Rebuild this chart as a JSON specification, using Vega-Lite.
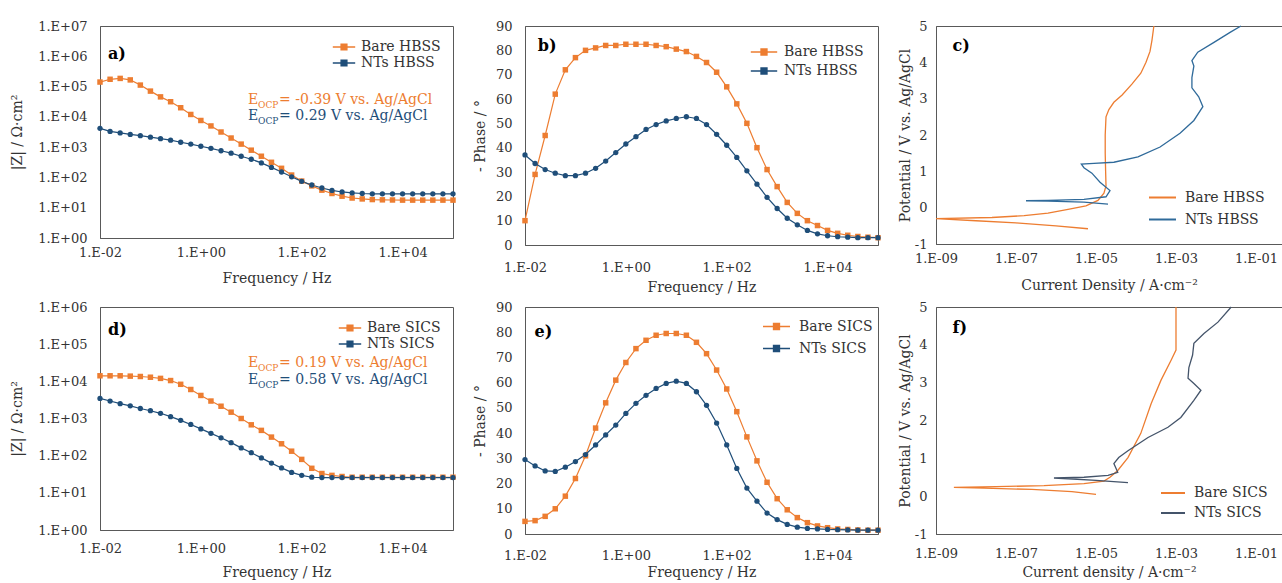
{
  "$schema": "https://vega.github.io/schema/vega-lite/v6.json",
  "padding": {"left": 10, "top": 19, "right": 0, "bottom": 0},
  "background": "white",
  "config": {
    "font": "DejaVu Serif",
    "view": {"stroke": "#595959", "strokeWidth": 1},
    "axis": {"grid": false, "ticks": false, "labelFont": "DejaVu Serif", "labelFontSize": 13, "labelColor": "#333333", "titleFont": "DejaVu Serif", "titleFontSize": 14, "titleFontWeight": "normal", "titleColor": "#333333", "domainColor": "#595959", "labelOverlap": false, "labelFlush": false, "labelBound": false},
    "legend": {"labelFont": "DejaVu Serif", "labelFontSize": 14, "labelColor": "#333333", "title": null, "padding": 0, "rowPadding": 0, "labelOffset": 8},
    "title": {"font": "DejaVu Serif"},
    "text": {"font": "DejaVu Serif"}
  },
  "datasets": {
    "zH": [
      {"f": 0.01, "Bare HBSS": 141000, "NTs HBSS": 4170},
      {"f": 0.01585, "Bare HBSS": 174000, "NTs HBSS": 3310},
      {"f": 0.02512, "Bare HBSS": 186000, "NTs HBSS": 2950},
      {"f": 0.03981, "Bare HBSS": 166000, "NTs HBSS": 2630},
      {"f": 0.0631, "Bare HBSS": 112000, "NTs HBSS": 2400},
      {"f": 0.1, "Bare HBSS": 70800, "NTs HBSS": 2140},
      {"f": 0.1585, "Bare HBSS": 45700, "NTs HBSS": 1910},
      {"f": 0.2512, "Bare HBSS": 31600, "NTs HBSS": 1700},
      {"f": 0.3981, "Bare HBSS": 20000, "NTs HBSS": 1450},
      {"f": 0.631, "Bare HBSS": 12000, "NTs HBSS": 1260},
      {"f": 1, "Bare HBSS": 7590, "NTs HBSS": 1070},
      {"f": 1.585, "Bare HBSS": 5010, "NTs HBSS": 912},
      {"f": 2.512, "Bare HBSS": 3160, "NTs HBSS": 759},
      {"f": 3.981, "Bare HBSS": 2000, "NTs HBSS": 631},
      {"f": 6.31, "Bare HBSS": 1260, "NTs HBSS": 501},
      {"f": 10, "Bare HBSS": 794, "NTs HBSS": 398},
      {"f": 15.85, "Bare HBSS": 501, "NTs HBSS": 302},
      {"f": 25.12, "Bare HBSS": 316, "NTs HBSS": 214},
      {"f": 39.81, "Bare HBSS": 200, "NTs HBSS": 151},
      {"f": 63.1, "Bare HBSS": 120, "NTs HBSS": 105},
      {"f": 100, "Bare HBSS": 75.9, "NTs HBSS": 74.1},
      {"f": 158.5, "Bare HBSS": 52.5, "NTs HBSS": 56.2},
      {"f": 251.2, "Bare HBSS": 38.0, "NTs HBSS": 44.7},
      {"f": 398.1, "Bare HBSS": 29.5, "NTs HBSS": 37.2},
      {"f": 631, "Bare HBSS": 24.0, "NTs HBSS": 33.1},
      {"f": 1000, "Bare HBSS": 20.9, "NTs HBSS": 30.9},
      {"f": 1585, "Bare HBSS": 19.5, "NTs HBSS": 29.5},
      {"f": 2512, "Bare HBSS": 18.6, "NTs HBSS": 28.8},
      {"f": 3981, "Bare HBSS": 18.2, "NTs HBSS": 28.8},
      {"f": 6310, "Bare HBSS": 18.0, "NTs HBSS": 28.8},
      {"f": 10000, "Bare HBSS": 17.8, "NTs HBSS": 28.8},
      {"f": 15850, "Bare HBSS": 17.8, "NTs HBSS": 28.8},
      {"f": 25120, "Bare HBSS": 17.8, "NTs HBSS": 28.8},
      {"f": 39810, "Bare HBSS": 17.8, "NTs HBSS": 28.8},
      {"f": 63100, "Bare HBSS": 17.8, "NTs HBSS": 28.8},
      {"f": 100000, "Bare HBSS": 17.8, "NTs HBSS": 28.8}
    ],
    "pH": [
      {"f": 0.01, "Bare HBSS": 10, "NTs HBSS": 37},
      {"f": 0.01585, "Bare HBSS": 29, "NTs HBSS": 33.5},
      {"f": 0.02512, "Bare HBSS": 45, "NTs HBSS": 31},
      {"f": 0.03981, "Bare HBSS": 62, "NTs HBSS": 29.5},
      {"f": 0.0631, "Bare HBSS": 72, "NTs HBSS": 28.5},
      {"f": 0.1, "Bare HBSS": 77, "NTs HBSS": 28.5},
      {"f": 0.1585, "Bare HBSS": 80, "NTs HBSS": 29.5},
      {"f": 0.2512, "Bare HBSS": 81, "NTs HBSS": 31.5},
      {"f": 0.3981, "Bare HBSS": 82, "NTs HBSS": 34.5},
      {"f": 0.631, "Bare HBSS": 82, "NTs HBSS": 38},
      {"f": 1, "Bare HBSS": 82.5, "NTs HBSS": 41.5},
      {"f": 1.585, "Bare HBSS": 82.5, "NTs HBSS": 44.5},
      {"f": 2.512, "Bare HBSS": 82.5, "NTs HBSS": 47.5},
      {"f": 3.981, "Bare HBSS": 82, "NTs HBSS": 49.5},
      {"f": 6.31, "Bare HBSS": 81.5, "NTs HBSS": 51},
      {"f": 10, "Bare HBSS": 80.5, "NTs HBSS": 52},
      {"f": 15.85, "Bare HBSS": 79.5, "NTs HBSS": 52.7},
      {"f": 25.12, "Bare HBSS": 77.5, "NTs HBSS": 52},
      {"f": 39.81, "Bare HBSS": 75, "NTs HBSS": 49.5},
      {"f": 63.1, "Bare HBSS": 71, "NTs HBSS": 45.5},
      {"f": 100, "Bare HBSS": 65, "NTs HBSS": 41},
      {"f": 158.5, "Bare HBSS": 58, "NTs HBSS": 36},
      {"f": 251.2, "Bare HBSS": 50, "NTs HBSS": 30.5},
      {"f": 398.1, "Bare HBSS": 40, "NTs HBSS": 25},
      {"f": 631, "Bare HBSS": 31, "NTs HBSS": 19.6},
      {"f": 1000, "Bare HBSS": 24, "NTs HBSS": 15},
      {"f": 1585, "Bare HBSS": 17.5, "NTs HBSS": 11},
      {"f": 2512, "Bare HBSS": 13, "NTs HBSS": 8.3},
      {"f": 3981, "Bare HBSS": 10, "NTs HBSS": 6},
      {"f": 6310, "Bare HBSS": 8, "NTs HBSS": 4.6},
      {"f": 10000, "Bare HBSS": 6, "NTs HBSS": 3.8},
      {"f": 15850, "Bare HBSS": 4.8, "NTs HBSS": 3.4},
      {"f": 25120, "Bare HBSS": 4, "NTs HBSS": 3.2},
      {"f": 39810, "Bare HBSS": 3.5, "NTs HBSS": 3},
      {"f": 63100, "Bare HBSS": 3.2, "NTs HBSS": 3},
      {"f": 100000, "Bare HBSS": 3, "NTs HBSS": 3}
    ],
    "zS": [
      {"f": 0.01, "Bare SICS": 14100, "NTs SICS": 3470},
      {"f": 0.01585, "Bare SICS": 14100, "NTs SICS": 2950},
      {"f": 0.02512, "Bare SICS": 14100, "NTs SICS": 2510},
      {"f": 0.03981, "Bare SICS": 13800, "NTs SICS": 2190},
      {"f": 0.0631, "Bare SICS": 13500, "NTs SICS": 1860},
      {"f": 0.1, "Bare SICS": 12900, "NTs SICS": 1620},
      {"f": 0.1585, "Bare SICS": 12000, "NTs SICS": 1380},
      {"f": 0.2512, "Bare SICS": 10500, "NTs SICS": 1120},
      {"f": 0.3981, "Bare SICS": 8320, "NTs SICS": 891},
      {"f": 0.631, "Bare SICS": 6030, "NTs SICS": 692},
      {"f": 1, "Bare SICS": 4170, "NTs SICS": 525},
      {"f": 1.585, "Bare SICS": 2950, "NTs SICS": 398},
      {"f": 2.512, "Bare SICS": 2140, "NTs SICS": 302},
      {"f": 3.981, "Bare SICS": 1480, "NTs SICS": 224},
      {"f": 6.31, "Bare SICS": 1000, "NTs SICS": 162},
      {"f": 10, "Bare SICS": 676, "NTs SICS": 120},
      {"f": 15.85, "Bare SICS": 479, "NTs SICS": 87.1},
      {"f": 25.12, "Bare SICS": 316, "NTs SICS": 63.1},
      {"f": 39.81, "Bare SICS": 209, "NTs SICS": 46.8},
      {"f": 63.1, "Bare SICS": 132, "NTs SICS": 35.5},
      {"f": 100, "Bare SICS": 79.4, "NTs SICS": 29.5},
      {"f": 158.5, "Bare SICS": 45.7, "NTs SICS": 26.3},
      {"f": 251.2, "Bare SICS": 33.1, "NTs SICS": 25.7},
      {"f": 398.1, "Bare SICS": 29.5, "NTs SICS": 25.7},
      {"f": 631, "Bare SICS": 27.5, "NTs SICS": 25.7},
      {"f": 1000, "Bare SICS": 26.3, "NTs SICS": 25.7},
      {"f": 1585, "Bare SICS": 26.3, "NTs SICS": 25.7},
      {"f": 2512, "Bare SICS": 26.3, "NTs SICS": 25.7},
      {"f": 3981, "Bare SICS": 26.3, "NTs SICS": 25.7},
      {"f": 6310, "Bare SICS": 26.3, "NTs SICS": 25.7},
      {"f": 10000, "Bare SICS": 26.3, "NTs SICS": 25.7},
      {"f": 15850, "Bare SICS": 26.3, "NTs SICS": 25.7},
      {"f": 25120, "Bare SICS": 26.3, "NTs SICS": 25.7},
      {"f": 39810, "Bare SICS": 26.3, "NTs SICS": 25.7},
      {"f": 63100, "Bare SICS": 26.3, "NTs SICS": 25.7},
      {"f": 100000, "Bare SICS": 26.3, "NTs SICS": 25.7}
    ],
    "pS": [
      {"f": 0.01, "Bare SICS": 5, "NTs SICS": 29.5},
      {"f": 0.01585, "Bare SICS": 5.3, "NTs SICS": 27},
      {"f": 0.02512, "Bare SICS": 7, "NTs SICS": 25},
      {"f": 0.03981, "Bare SICS": 10, "NTs SICS": 24.8},
      {"f": 0.0631, "Bare SICS": 15, "NTs SICS": 26.5},
      {"f": 0.1, "Bare SICS": 22, "NTs SICS": 28.7},
      {"f": 0.1585, "Bare SICS": 31, "NTs SICS": 31.5},
      {"f": 0.2512, "Bare SICS": 42, "NTs SICS": 35.3},
      {"f": 0.3981, "Bare SICS": 52, "NTs SICS": 39.3},
      {"f": 0.631, "Bare SICS": 61, "NTs SICS": 43.2},
      {"f": 1, "Bare SICS": 68, "NTs SICS": 47.8},
      {"f": 1.585, "Bare SICS": 73.5, "NTs SICS": 51.8},
      {"f": 2.512, "Bare SICS": 76.8, "NTs SICS": 55},
      {"f": 3.981, "Bare SICS": 78.8, "NTs SICS": 57.7},
      {"f": 6.31, "Bare SICS": 79.5, "NTs SICS": 59.7},
      {"f": 10, "Bare SICS": 79.5, "NTs SICS": 60.6},
      {"f": 15.85, "Bare SICS": 78.8, "NTs SICS": 59.7},
      {"f": 25.12, "Bare SICS": 76, "NTs SICS": 56.4},
      {"f": 39.81, "Bare SICS": 71.5, "NTs SICS": 51},
      {"f": 63.1, "Bare SICS": 65, "NTs SICS": 44},
      {"f": 100, "Bare SICS": 57.5, "NTs SICS": 35.3},
      {"f": 158.5, "Bare SICS": 48.5, "NTs SICS": 26},
      {"f": 251.2, "Bare SICS": 38.5, "NTs SICS": 18.2},
      {"f": 398.1, "Bare SICS": 29, "NTs SICS": 13},
      {"f": 631, "Bare SICS": 20.5, "NTs SICS": 8.3},
      {"f": 1000, "Bare SICS": 14, "NTs SICS": 5.7},
      {"f": 1585, "Bare SICS": 9.6, "NTs SICS": 3.8},
      {"f": 2512, "Bare SICS": 6.5, "NTs SICS": 2.7},
      {"f": 3981, "Bare SICS": 4.5, "NTs SICS": 2.2},
      {"f": 6310, "Bare SICS": 3.2, "NTs SICS": 2},
      {"f": 10000, "Bare SICS": 2.5, "NTs SICS": 1.8},
      {"f": 15850, "Bare SICS": 2, "NTs SICS": 1.7},
      {"f": 25120, "Bare SICS": 1.8, "NTs SICS": 1.6},
      {"f": 39810, "Bare SICS": 1.6, "NTs SICS": 1.5},
      {"f": 63100, "Bare SICS": 1.5, "NTs SICS": 1.5},
      {"f": 100000, "Bare SICS": 1.5, "NTs SICS": 1.5}
    ],
    "cH": [
      {"s": "Bare HBSS", "o": 1, "i": 6.3e-6, "v": -0.58},
      {"s": "Bare HBSS", "o": 2, "i": 1.0e-6, "v": -0.5},
      {"s": "Bare HBSS", "o": 3, "i": 1.0e-7, "v": -0.42},
      {"s": "Bare HBSS", "o": 4, "i": 1.0e-8, "v": -0.36},
      {"s": "Bare HBSS", "o": 5, "i": 1.3e-9, "v": -0.31},
      {"s": "Bare HBSS", "o": 6, "i": 1.0e-9, "v": -0.3},
      {"s": "Bare HBSS", "o": 7, "i": 2.5e-8, "v": -0.27},
      {"s": "Bare HBSS", "o": 8, "i": 1.6e-7, "v": -0.22},
      {"s": "Bare HBSS", "o": 9, "i": 6.3e-7, "v": -0.15},
      {"s": "Bare HBSS", "o": 10, "i": 2.0e-6, "v": -0.05},
      {"s": "Bare HBSS", "o": 11, "i": 5.6e-6, "v": 0.05},
      {"s": "Bare HBSS", "o": 12, "i": 1.12e-5, "v": 0.2},
      {"s": "Bare HBSS", "o": 13, "i": 1.58e-5, "v": 0.4},
      {"s": "Bare HBSS", "o": 14, "i": 1.78e-5, "v": 0.6},
      {"s": "Bare HBSS", "o": 15, "i": 1.74e-5, "v": 1.0},
      {"s": "Bare HBSS", "o": 16, "i": 1.7e-5, "v": 1.5},
      {"s": "Bare HBSS", "o": 17, "i": 1.7e-5, "v": 2.0},
      {"s": "Bare HBSS", "o": 18, "i": 1.78e-5, "v": 2.5},
      {"s": "Bare HBSS", "o": 19, "i": 2.1e-5, "v": 2.7},
      {"s": "Bare HBSS", "o": 20, "i": 2.8e-5, "v": 2.9},
      {"s": "Bare HBSS", "o": 21, "i": 4.5e-5, "v": 3.1},
      {"s": "Bare HBSS", "o": 22, "i": 7.9e-5, "v": 3.4},
      {"s": "Bare HBSS", "o": 23, "i": 1.32e-4, "v": 3.7},
      {"s": "Bare HBSS", "o": 24, "i": 1.78e-4, "v": 4.0},
      {"s": "Bare HBSS", "o": 25, "i": 2.24e-4, "v": 4.3},
      {"s": "Bare HBSS", "o": 26, "i": 2.5e-4, "v": 4.6},
      {"s": "Bare HBSS", "o": 27, "i": 2.8e-4, "v": 5.0},
      {"s": "NTs HBSS", "o": 1, "i": 2.0e-5, "v": 0.1},
      {"s": "NTs HBSS", "o": 2, "i": 5.0e-6, "v": 0.15},
      {"s": "NTs HBSS", "o": 3, "i": 6.3e-7, "v": 0.18},
      {"s": "NTs HBSS", "o": 4, "i": 1.78e-7, "v": 0.19},
      {"s": "NTs HBSS", "o": 5, "i": 6.3e-7, "v": 0.2},
      {"s": "NTs HBSS", "o": 6, "i": 5.0e-6, "v": 0.23},
      {"s": "NTs HBSS", "o": 7, "i": 1.78e-5, "v": 0.3},
      {"s": "NTs HBSS", "o": 8, "i": 2.24e-5, "v": 0.47},
      {"s": "NTs HBSS", "o": 9, "i": 1.26e-5, "v": 0.7},
      {"s": "NTs HBSS", "o": 10, "i": 7.9e-6, "v": 0.95},
      {"s": "NTs HBSS", "o": 11, "i": 5.0e-6, "v": 1.1},
      {"s": "NTs HBSS", "o": 12, "i": 4.3e-6, "v": 1.2},
      {"s": "NTs HBSS", "o": 13, "i": 8.9e-6, "v": 1.22},
      {"s": "NTs HBSS", "o": 14, "i": 2.8e-5, "v": 1.25},
      {"s": "NTs HBSS", "o": 15, "i": 1.12e-4, "v": 1.4},
      {"s": "NTs HBSS", "o": 16, "i": 4.0e-4, "v": 1.67},
      {"s": "NTs HBSS", "o": 17, "i": 1.26e-3, "v": 2.05},
      {"s": "NTs HBSS", "o": 18, "i": 2.8e-3, "v": 2.4},
      {"s": "NTs HBSS", "o": 19, "i": 4.7e-3, "v": 2.78},
      {"s": "NTs HBSS", "o": 20, "i": 3.7e-3, "v": 3.05},
      {"s": "NTs HBSS", "o": 21, "i": 2.5e-3, "v": 3.3},
      {"s": "NTs HBSS", "o": 22, "i": 2.5e-3, "v": 3.58},
      {"s": "NTs HBSS", "o": 23, "i": 2.8e-3, "v": 3.9},
      {"s": "NTs HBSS", "o": 24, "i": 2.5e-3, "v": 4.05},
      {"s": "NTs HBSS", "o": 25, "i": 3.5e-3, "v": 4.28},
      {"s": "NTs HBSS", "o": 26, "i": 8.9e-3, "v": 4.55},
      {"s": "NTs HBSS", "o": 27, "i": 2.3e-2, "v": 4.83},
      {"s": "NTs HBSS", "o": 28, "i": 4.2e-2, "v": 5.0}
    ],
    "cS": [
      {"s": "Bare SICS", "o": 1, "i": 1.0e-5, "v": 0.05},
      {"s": "Bare SICS", "o": 2, "i": 2.5e-6, "v": 0.12},
      {"s": "Bare SICS", "o": 3, "i": 2.5e-7, "v": 0.18},
      {"s": "Bare SICS", "o": 4, "i": 1.6e-8, "v": 0.21},
      {"s": "Bare SICS", "o": 5, "i": 2.8e-9, "v": 0.23},
      {"s": "Bare SICS", "o": 6, "i": 3.2e-8, "v": 0.25},
      {"s": "Bare SICS", "o": 7, "i": 5.0e-7, "v": 0.28},
      {"s": "Bare SICS", "o": 8, "i": 5.0e-6, "v": 0.33},
      {"s": "Bare SICS", "o": 9, "i": 1.58e-5, "v": 0.4},
      {"s": "Bare SICS", "o": 10, "i": 2.24e-5, "v": 0.5},
      {"s": "Bare SICS", "o": 11, "i": 3.5e-5, "v": 0.68},
      {"s": "Bare SICS", "o": 12, "i": 6.3e-5, "v": 1.02},
      {"s": "Bare SICS", "o": 13, "i": 1.32e-4, "v": 1.66},
      {"s": "Bare SICS", "o": 14, "i": 2.4e-4, "v": 2.45},
      {"s": "Bare SICS", "o": 15, "i": 4.2e-4, "v": 3.06},
      {"s": "Bare SICS", "o": 16, "i": 7.6e-4, "v": 3.6},
      {"s": "Bare SICS", "o": 17, "i": 1.0e-3, "v": 3.86},
      {"s": "Bare SICS", "o": 18, "i": 1.0e-3, "v": 5.0},
      {"s": "NTs SICS", "o": 1, "i": 6.3e-5, "v": 0.36},
      {"s": "NTs SICS", "o": 2, "i": 1.0e-5, "v": 0.42},
      {"s": "NTs SICS", "o": 3, "i": 2.0e-6, "v": 0.46},
      {"s": "NTs SICS", "o": 4, "i": 8.9e-7, "v": 0.48},
      {"s": "NTs SICS", "o": 5, "i": 5.0e-6, "v": 0.5},
      {"s": "NTs SICS", "o": 6, "i": 2.0e-5, "v": 0.55},
      {"s": "NTs SICS", "o": 7, "i": 3.5e-5, "v": 0.63},
      {"s": "NTs SICS", "o": 8, "i": 2.8e-5, "v": 0.86},
      {"s": "NTs SICS", "o": 9, "i": 3.7e-5, "v": 1.02},
      {"s": "NTs SICS", "o": 10, "i": 6.3e-5, "v": 1.2},
      {"s": "NTs SICS", "o": 11, "i": 2.0e-4, "v": 1.55},
      {"s": "NTs SICS", "o": 12, "i": 6.3e-4, "v": 1.82},
      {"s": "NTs SICS", "o": 13, "i": 1.32e-3, "v": 2.08},
      {"s": "NTs SICS", "o": 14, "i": 2.8e-3, "v": 2.53},
      {"s": "NTs SICS", "o": 15, "i": 4.2e-3, "v": 2.8},
      {"s": "NTs SICS", "o": 16, "i": 2.8e-3, "v": 2.98},
      {"s": "NTs SICS", "o": 17, "i": 2.0e-3, "v": 3.12},
      {"s": "NTs SICS", "o": 18, "i": 2.1e-3, "v": 3.4},
      {"s": "NTs SICS", "o": 19, "i": 2.6e-3, "v": 3.73},
      {"s": "NTs SICS", "o": 20, "i": 2.8e-3, "v": 4.04},
      {"s": "NTs SICS", "o": 21, "i": 5.0e-3, "v": 4.3},
      {"s": "NTs SICS", "o": 22, "i": 1.12e-2, "v": 4.6},
      {"s": "NTs SICS", "o": 23, "i": 2.4e-2, "v": 5.0}
    ]
  },
  "resolve": {"scale": {"color": "independent", "x": "independent", "y": "independent"}},
  "spacing": 5,
  "vconcat": [
    {
      "spacing": 15,
      "resolve": {"scale": {"color": "independent", "x": "independent", "y": "independent"}},
      "hconcat": [
        {
          "width": 353, "height": 212,
          "layer": [
            {
              "data": {"name": "zH"},
              "transform": [{"fold": ["Bare HBSS", "NTs HBSS"], "as": ["series", "val"]}],
              "encoding": {
                "x": {"field": "f", "type": "quantitative", "scale": {"type": "log", "domain": [0.01, 100000], "nice": false}, "axis": {"values": [0.01, 1, 100, 10000], "tickCount": 20, "title": "Frequency / Hz", "labelPadding": 8, "titlePadding": 12, "labelOverlap": false, "labelExpr": "'1.E' + (log(datum.value)/LN10 < -0.5 ? '-' : '+') + (abs(round(log(datum.value)/LN10)) < 10 ? '0' : '') + abs(round(log(datum.value)/LN10))"}},
                "y": {"field": "val", "type": "quantitative", "scale": {"type": "log", "domain": [1, 10000000], "nice": false}, "axis": {"values": [1, 10, 100, 1000, 10000, 100000, 1000000, 10000000], "tickCount": 20, "title": "|Z| / Ω·cm²", "labelPadding": 13, "titlePadding": 13, "labelOverlap": false, "labelExpr": "'1.E' + (log(datum.value)/LN10 < -0.5 ? '-' : '+') + (abs(round(log(datum.value)/LN10)) < 10 ? '0' : '') + abs(round(log(datum.value)/LN10))"}},
                "color": {"field": "series", "type": "nominal", "scale": {"domain": ["Bare HBSS", "NTs HBSS"], "range": ["#ED7D31", "#1F4E79"]}, "legend": {"orient": "top-right", "offset": 12, "symbolSize": 256, "symbolType": "M-1.4,0H1.4M-0.36,-0.36H0.36V0.36H-0.36Z", "symbolStrokeWidth": 1.4}}
              },
              "layer": [
                {"mark": {"type": "line", "strokeWidth": 1.2}},
                {"transform": [{"filter": "datum.series === 'Bare HBSS'"}], "mark": {"type": "point", "shape": "square", "filled": true, "size": 30, "opacity": 1}},
                {"transform": [{"filter": "datum.series === 'NTs HBSS'"}], "mark": {"type": "point", "shape": "circle", "filled": true, "size": 28, "opacity": 1}}
              ]
            },
            {"data": {"values": [{}]}, "mark": {"type": "text", "fontSize": 16, "fontWeight": "bold", "align": "left", "baseline": "middle", "color": "#000000"}, "encoding": {"x": {"datum": 0.0144}, "y": {"datum": 1150000}, "text": {"value": "a)"}}},
            {"data": {"values": [{}]}, "mark": {"type": "text", "fontSize": 14, "align": "left", "baseline": "middle", "color": "#ED7D31"}, "encoding": {"x": {"datum": 8.65}, "y": {"datum": 36000}, "text": {"value": "E"}}},
            {"data": {"values": [{}]}, "mark": {"type": "text", "fontSize": 9, "align": "left", "baseline": "middle", "dx": 10, "dy": 5, "color": "#ED7D31"}, "encoding": {"x": {"datum": 8.65}, "y": {"datum": 36000}, "text": {"value": "OCP"}}},
            {"data": {"values": [{}]}, "mark": {"type": "text", "fontSize": 14, "align": "left", "baseline": "middle", "dx": 31, "color": "#ED7D31"}, "encoding": {"x": {"datum": 8.65}, "y": {"datum": 36000}, "text": {"value": "= -0.39 V vs. Ag/AgCl"}}},
            {"data": {"values": [{}]}, "mark": {"type": "text", "fontSize": 14, "align": "left", "baseline": "middle", "color": "#1F4E79"}, "encoding": {"x": {"datum": 8.65}, "y": {"datum": 11000}, "text": {"value": "E"}}},
            {"data": {"values": [{}]}, "mark": {"type": "text", "fontSize": 9, "align": "left", "baseline": "middle", "dx": 10, "dy": 5, "color": "#1F4E79"}, "encoding": {"x": {"datum": 8.65}, "y": {"datum": 11000}, "text": {"value": "OCP"}}},
            {"data": {"values": [{}]}, "mark": {"type": "text", "fontSize": 14, "align": "left", "baseline": "middle", "dx": 31, "color": "#1F4E79"}, "encoding": {"x": {"datum": 8.65}, "y": {"datum": 11000}, "text": {"value": "= 0.29 V vs. Ag/AgCl"}}}
          ]
        },
        {
          "width": 353, "height": 219,
          "layer": [
            {
              "data": {"name": "pH"},
              "transform": [{"fold": ["Bare HBSS", "NTs HBSS"], "as": ["series", "val"]}],
              "encoding": {
                "x": {"field": "f", "type": "quantitative", "scale": {"type": "log", "domain": [0.01, 100000], "nice": false}, "axis": {"values": [0.01, 1, 100, 10000], "tickCount": 20, "title": "Frequency / Hz", "labelPadding": 16, "titlePadding": 6, "labelOverlap": false, "labelExpr": "'1.E' + (log(datum.value)/LN10 < -0.5 ? '-' : '+') + (abs(round(log(datum.value)/LN10)) < 10 ? '0' : '') + abs(round(log(datum.value)/LN10))"}},
                "y": {"field": "val", "type": "quantitative", "scale": {"domain": [0, 90], "nice": false}, "axis": {"values": [0, 10, 20, 30, 40, 50, 60, 70, 80, 90], "tickCount": 20, "title": "- Phase / °", "labelPadding": 13, "titlePadding": 8, "labelOverlap": false}},
                "color": {"field": "series", "type": "nominal", "scale": {"domain": ["Bare HBSS", "NTs HBSS"], "range": ["#ED7D31", "#1F4E79"]}, "legend": {"orient": "top-right", "offset": 14, "symbolSize": 484, "symbolType": "M-1.2,0H1.2M-0.27,-0.27H0.27V0.27H-0.27Z", "symbolStrokeWidth": 1.4}}
              },
              "layer": [
                {"mark": {"type": "line", "strokeWidth": 1.2}},
                {"transform": [{"filter": "datum.series === 'Bare HBSS'"}], "mark": {"type": "point", "shape": "square", "filled": true, "size": 30, "opacity": 1}},
                {"transform": [{"filter": "datum.series === 'NTs HBSS'"}], "mark": {"type": "point", "shape": "circle", "filled": true, "size": 28, "opacity": 1}}
              ]
            },
            {"data": {"values": [{}]}, "mark": {"type": "text", "fontSize": 16, "fontWeight": "bold", "align": "left", "baseline": "middle", "color": "#000000"}, "encoding": {"x": {"datum": 0.018}, "y": {"datum": 81.7}, "text": {"value": "b)"}}}
          ]
        },
        {
          "width": 346, "height": 218,
          "layer": [
            {
              "data": {"name": "cH"},
              "mark": {"type": "line", "strokeWidth": 1.3},
              "encoding": {
                "x": {"field": "i", "type": "quantitative", "scale": {"type": "log", "domain": [1e-9, 0.447], "nice": false}, "axis": {"values": [1e-9, 1e-7, 1e-5, 1e-3, 1e-1], "tickCount": 20, "title": "Current Density / A·cm⁻²", "labelPadding": 8, "titlePadding": 13, "labelOverlap": false, "labelExpr": "'1.E' + (log(datum.value)/LN10 < -0.5 ? '-' : '+') + (abs(round(log(datum.value)/LN10)) < 10 ? '0' : '') + abs(round(log(datum.value)/LN10))"}},
                "y": {"field": "v", "type": "quantitative", "scale": {"domain": [-1, 5], "nice": false}, "axis": {"values": [-1, 0, 1, 2, 3, 4, 5], "tickCount": 20, "title": "Potential / V vs. Ag/AgCl", "labelPadding": 9, "titlePadding": 2, "labelOverlap": false, "labelExpr": "datum.value < 0 ? '-' + abs(datum.value) : '' + datum.value"}},
                "order": {"field": "o", "type": "quantitative"},
                "color": {"field": "s", "type": "nominal", "scale": {"domain": ["Bare HBSS", "NTs HBSS"], "range": ["#ED7D31", "#2F6A9A"]}, "legend": {"orient": "bottom-right", "offset": 17, "symbolType": "stroke", "symbolSize": 729, "symbolStrokeWidth": 2}}
              }
            },
            {"data": {"values": [{}]}, "mark": {"type": "text", "fontSize": 16, "fontWeight": "bold", "align": "left", "baseline": "middle", "color": "#000000"}, "encoding": {"x": {"datum": 2.6e-9}, "y": {"datum": 4.44}, "text": {"value": "c)"}}}
          ]
        }
      ]
    },
    {
      "spacing": 15,
      "resolve": {"scale": {"color": "independent", "x": "independent", "y": "independent"}},
      "hconcat": [
        {
          "width": 353, "height": 223,
          "layer": [
            {
              "data": {"name": "zS"},
              "transform": [{"fold": ["Bare SICS", "NTs SICS"], "as": ["series", "val"]}],
              "encoding": {
                "x": {"field": "f", "type": "quantitative", "scale": {"type": "log", "domain": [0.01, 100000], "nice": false}, "axis": {"values": [0.01, 1, 100, 10000], "tickCount": 20, "title": "Frequency / Hz", "labelPadding": 12, "titlePadding": 10, "labelOverlap": false, "labelExpr": "'1.E' + (log(datum.value)/LN10 < -0.5 ? '-' : '+') + (abs(round(log(datum.value)/LN10)) < 10 ? '0' : '') + abs(round(log(datum.value)/LN10))"}},
                "y": {"field": "val", "type": "quantitative", "scale": {"type": "log", "domain": [1, 1000000], "nice": false}, "axis": {"values": [1, 10, 100, 1000, 10000, 100000, 1000000], "tickCount": 20, "title": "|Z| / Ω·cm²", "labelPadding": 13, "titlePadding": 13, "labelOverlap": false, "labelExpr": "'1.E' + (log(datum.value)/LN10 < -0.5 ? '-' : '+') + (abs(round(log(datum.value)/LN10)) < 10 ? '0' : '') + abs(round(log(datum.value)/LN10))"}},
                "color": {"field": "series", "type": "nominal", "scale": {"domain": ["Bare SICS", "NTs SICS"], "range": ["#ED7D31", "#1F4E79"]}, "legend": {"orient": "top-right", "offset": 12, "symbolSize": 256, "symbolType": "M-1.4,0H1.4M-0.36,-0.36H0.36V0.36H-0.36Z", "symbolStrokeWidth": 1.4}}
              },
              "layer": [
                {"mark": {"type": "line", "strokeWidth": 1.2}},
                {"transform": [{"filter": "datum.series === 'Bare SICS'"}], "mark": {"type": "point", "shape": "square", "filled": true, "size": 30, "opacity": 1}},
                {"transform": [{"filter": "datum.series === 'NTs SICS'"}], "mark": {"type": "point", "shape": "circle", "filled": true, "size": 28, "opacity": 1}}
              ]
            },
            {"data": {"values": [{}]}, "mark": {"type": "text", "fontSize": 16, "fontWeight": "bold", "align": "left", "baseline": "middle", "color": "#000000"}, "encoding": {"x": {"datum": 0.0144}, "y": {"datum": 240000}, "text": {"value": "d)"}}},
            {"data": {"values": [{}]}, "mark": {"type": "text", "fontSize": 14, "align": "left", "baseline": "middle", "color": "#ED7D31"}, "encoding": {"x": {"datum": 8.65}, "y": {"datum": 31000}, "text": {"value": "E"}}},
            {"data": {"values": [{}]}, "mark": {"type": "text", "fontSize": 9, "align": "left", "baseline": "middle", "dx": 10, "dy": 5, "color": "#ED7D31"}, "encoding": {"x": {"datum": 8.65}, "y": {"datum": 31000}, "text": {"value": "OCP"}}},
            {"data": {"values": [{}]}, "mark": {"type": "text", "fontSize": 14, "align": "left", "baseline": "middle", "dx": 31, "color": "#ED7D31"}, "encoding": {"x": {"datum": 8.65}, "y": {"datum": 31000}, "text": {"value": "= 0.19 V vs. Ag/AgCl"}}},
            {"data": {"values": [{}]}, "mark": {"type": "text", "fontSize": 14, "align": "left", "baseline": "middle", "color": "#1F4E79"}, "encoding": {"x": {"datum": 8.65}, "y": {"datum": 11000}, "text": {"value": "E"}}},
            {"data": {"values": [{}]}, "mark": {"type": "text", "fontSize": 9, "align": "left", "baseline": "middle", "dx": 10, "dy": 5, "color": "#1F4E79"}, "encoding": {"x": {"datum": 8.65}, "y": {"datum": 11000}, "text": {"value": "OCP"}}},
            {"data": {"values": [{}]}, "mark": {"type": "text", "fontSize": 14, "align": "left", "baseline": "middle", "dx": 31, "color": "#1F4E79"}, "encoding": {"x": {"datum": 8.65}, "y": {"datum": 11000}, "text": {"value": "= 0.58 V vs. Ag/AgCl"}}}
          ]
        },
        {
          "width": 353, "height": 227,
          "layer": [
            {
              "data": {"name": "pS"},
              "transform": [{"fold": ["Bare SICS", "NTs SICS"], "as": ["series", "val"]}],
              "encoding": {
                "x": {"field": "f", "type": "quantitative", "scale": {"type": "log", "domain": [0.01, 100000], "nice": false}, "axis": {"values": [0.01, 1, 100, 10000], "tickCount": 20, "title": "Frequency / Hz", "labelPadding": 15, "titlePadding": 3, "labelOverlap": false, "labelExpr": "'1.E' + (log(datum.value)/LN10 < -0.5 ? '-' : '+') + (abs(round(log(datum.value)/LN10)) < 10 ? '0' : '') + abs(round(log(datum.value)/LN10))"}},
                "y": {"field": "val", "type": "quantitative", "scale": {"domain": [0, 90], "nice": false}, "axis": {"values": [0, 10, 20, 30, 40, 50, 60, 70, 80, 90], "tickCount": 20, "title": "- Phase / °", "labelPadding": 13, "titlePadding": 8, "labelOverlap": false}},
                "color": {"field": "series", "type": "nominal", "scale": {"domain": ["Bare SICS", "NTs SICS"], "range": ["#ED7D31", "#1F4E79"]}, "legend": {"orient": "top-right", "offset": 5, "symbolSize": 729, "symbolType": "M-1,0H1M-0.22,-0.22H0.22V0.22H-0.22Z", "symbolStrokeWidth": 1.4}}
              },
              "layer": [
                {"mark": {"type": "line", "strokeWidth": 1.2}},
                {"transform": [{"filter": "datum.series === 'Bare SICS'"}], "mark": {"type": "point", "shape": "square", "filled": true, "size": 30, "opacity": 1}},
                {"transform": [{"filter": "datum.series === 'NTs SICS'"}], "mark": {"type": "point", "shape": "circle", "filled": true, "size": 28, "opacity": 1}}
              ]
            },
            {"data": {"values": [{}]}, "mark": {"type": "text", "fontSize": 16, "fontWeight": "bold", "align": "left", "baseline": "middle", "color": "#000000"}, "encoding": {"x": {"datum": 0.0155}, "y": {"datum": 80}, "text": {"value": "e)"}}}
          ]
        },
        {
          "width": 346, "height": 227,
          "layer": [
            {
              "data": {"name": "cS"},
              "mark": {"type": "line", "strokeWidth": 1.3},
              "encoding": {
                "x": {"field": "i", "type": "quantitative", "scale": {"type": "log", "domain": [1e-9, 0.447], "nice": false}, "axis": {"values": [1e-9, 1e-7, 1e-5, 1e-3, 1e-1], "tickCount": 20, "title": "Current density / A·cm⁻²", "labelPadding": 13, "titlePadding": 5, "labelOverlap": false, "labelExpr": "'1.E' + (log(datum.value)/LN10 < -0.5 ? '-' : '+') + (abs(round(log(datum.value)/LN10)) < 10 ? '0' : '') + abs(round(log(datum.value)/LN10))"}},
                "y": {"field": "v", "type": "quantitative", "scale": {"domain": [-1, 5], "nice": false}, "axis": {"values": [-1, 0, 1, 2, 3, 4, 5], "tickCount": 20, "title": "Potential / V vs. Ag/AgCl", "labelPadding": 9, "titlePadding": 2, "labelOverlap": false, "labelExpr": "datum.value < 0 ? '-' + abs(datum.value) : '' + datum.value"}},
                "order": {"field": "o", "type": "quantitative"},
                "color": {"field": "s", "type": "nominal", "scale": {"domain": ["Bare SICS", "NTs SICS"], "range": ["#ED7D31", "#44546A"]}, "legend": {"orient": "bottom-right", "offset": 14, "symbolType": "stroke", "symbolSize": 576, "symbolStrokeWidth": 2}}
              }
            },
            {"data": {"values": [{}]}, "mark": {"type": "text", "fontSize": 16, "fontWeight": "bold", "align": "left", "baseline": "middle", "color": "#000000"}, "encoding": {"x": {"datum": 2.6e-9}, "y": {"datum": 4.44}, "text": {"value": "f)"}}}
          ]
        }
      ]
    }
  ]
}
